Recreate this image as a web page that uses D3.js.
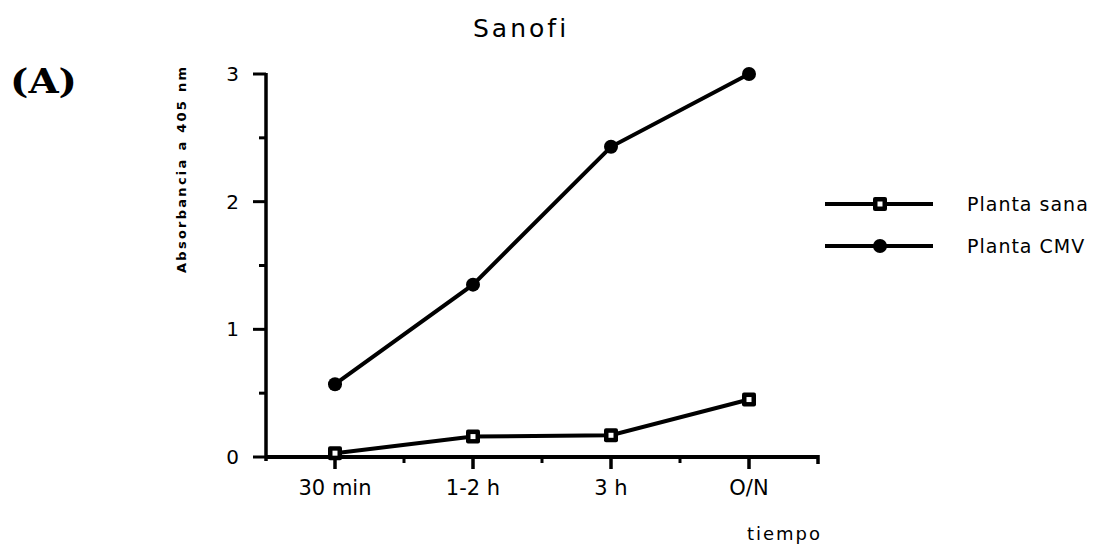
<!DOCTYPE html>
<html>
<head>
<meta charset="utf-8">
<script src="https://cdn.jsdelivr.net/npm/d3@7"></script>
<style>
  body { margin: 0; background: #fff; }
  svg text { font-family: "DejaVu Sans", sans-serif; fill: #000; }
</style>
</head>
<body>
<div id="chart"></div>
<script>
const categories = ["30 min", "1-2 h", "3 h", "O/N"];
const sanaValues = [0.03, 0.16, 0.17, 0.45];
const cmvValues = [0.57, 1.35, 2.43, 3.0];
const yTicks = [0, 1, 2, 3];
const yMinorTicks = [0.5, 1.5, 2.5];
const seriesNames = ["Planta sana", "Planta CMV"];

const width = 1110;
const height = 551;

const svg = d3.select("#chart").append("svg").attr("width", width).attr("height", height);

const x = d3.scalePoint().domain(categories).range([266, 818]).padding(0.5);
const y = d3.scaleLinear().domain([0, 3]).range([457, 74]);

// y axis
const yAxis = svg.append("g").attr("transform", "translate(266,0)");
yAxis.append("line").attr("x1", 0).attr("x2", 0).attr("y1", y(3) - 1).attr("y2", y(0) + 4)
  .attr("stroke", "#000").attr("stroke-width", 3.5);
yAxis.selectAll(".major").data(yTicks).join("line")
  .attr("x1", -13).attr("x2", 0).attr("y1", (d) => y(d)).attr("y2", (d) => y(d))
  .attr("stroke", "#000").attr("stroke-width", 3);
yAxis.selectAll(".minor").data(yMinorTicks).join("line")
  .attr("x1", -7).attr("x2", 0).attr("y1", (d) => y(d)).attr("y2", (d) => y(d))
  .attr("stroke", "#000").attr("stroke-width", 3);
yAxis.selectAll("text").data(yTicks).join("text")
  .attr("x", -27).attr("y", (d) => y(d) + 7)
  .attr("text-anchor", "end").attr("font-size", 20)
  .text((d) => d);

// x axis
const xAxis = svg.append("g").attr("transform", `translate(0,${y(0)})`);
xAxis.append("line").attr("x1", 266).attr("x2", 818).attr("y1", 0).attr("y2", 0)
  .attr("stroke", "#000").attr("stroke-width", 4);
xAxis.append("line").attr("x1", 818).attr("x2", 818).attr("y1", -2).attr("y2", 7)
  .attr("stroke", "#000").attr("stroke-width", 3.5);
xAxis.selectAll(".major").data(categories).join("line")
  .attr("x1", (d) => x(d)).attr("x2", (d) => x(d)).attr("y1", 0).attr("y2", 12)
  .attr("stroke", "#000").attr("stroke-width", 3.5);
const mids = categories.slice(1).map((c, i) => (x(c) + x(categories[i])) / 2);
xAxis.selectAll(".minor").data(mids).join("line")
  .attr("x1", (d) => d).attr("x2", (d) => d).attr("y1", 0).attr("y2", 6)
  .attr("stroke", "#000").attr("stroke-width", 3);
xAxis.selectAll("text").data(categories).join("text")
  .attr("x", (d) => x(d)).attr("y", 38)
  .attr("text-anchor", "middle").attr("font-size", 21)
  .text((d) => d);

// axis titles
svg.append("text")
  .attr("transform", "translate(186,170) rotate(-90)")
  .attr("text-anchor", "middle").attr("font-size", 13).attr("font-weight", "bold")
  .attr("textLength", 206).attr("lengthAdjust", "spacing")
  .text("Absorbancia a 405 nm");
svg.append("text")
  .attr("x", 822).attr("y", 540).attr("text-anchor", "end")
  .attr("font-size", 18).attr("letter-spacing", 2)
  .text("tiempo");

// title and panel label
svg.append("text").attr("x", 473).attr("y", 37)
  .attr("font-size", 25).attr("letter-spacing", 3).text("Sanofi");
svg.append("text").attr("x", 10).attr("y", 93)
  .style("font-family", "'DejaVu Serif', serif").attr("font-weight", "bold")
  .attr("font-size", 34).attr("textLength", 67).attr("lengthAdjust", "spacingAndGlyphs")
  .text("(A)");

// lines
const line = d3.line().x((d, i) => x(categories[i])).y((d) => y(d));
svg.append("path").datum(cmvValues).attr("d", line)
  .attr("fill", "none").attr("stroke", "#000").attr("stroke-width", 4);
svg.append("path").datum(sanaValues).attr("d", line)
  .attr("fill", "none").attr("stroke", "#000").attr("stroke-width", 4);

function squareMarker(g, cx, cy) {
  g.append("rect").attr("x", cx - 7).attr("y", cy - 7).attr("width", 14).attr("height", 14)
    .attr("rx", 2).attr("fill", "#000");
  g.append("rect").attr("x", cx - 2.5).attr("y", cy - 2.5).attr("width", 5).attr("height", 5)
    .attr("fill", "#fff");
}

svg.selectAll(".cmv").data(cmvValues).join("circle")
  .attr("cx", (d, i) => x(categories[i])).attr("cy", (d) => y(d)).attr("r", 7)
  .attr("fill", "#000");
const sanaG = svg.append("g");
sanaValues.forEach((d, i) => squareMarker(sanaG, x(categories[i]), y(d)));

// legend
const legend = svg.append("g");
seriesNames.forEach((name, i) => {
  const ly = 204 + i * 42;
  legend.append("line").attr("x1", 825).attr("x2", 933).attr("y1", ly).attr("y2", ly)
    .attr("stroke", "#000").attr("stroke-width", 4);
  if (i === 0) squareMarker(legend, 880, ly);
  else legend.append("circle").attr("cx", 880).attr("cy", ly).attr("r", 7).attr("fill", "#000");
  legend.append("text").attr("x", 967).attr("y", ly + 7)
    .attr("font-size", 19).attr("letter-spacing", 1).text(name);
});
</script>
</body>
</html>
